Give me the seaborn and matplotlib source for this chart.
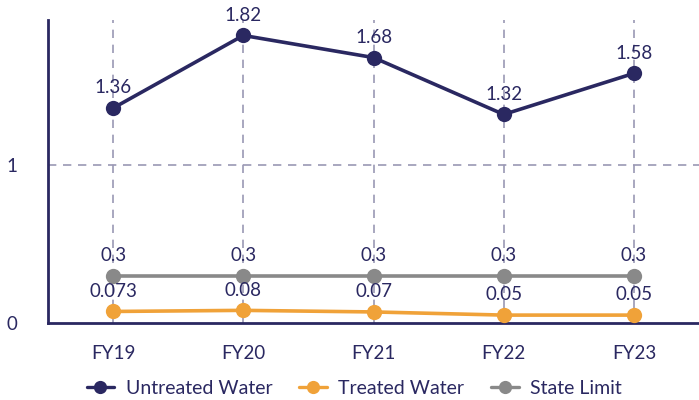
import matplotlib
matplotlib.use("Agg")
import matplotlib.pyplot as plt
import seaborn as sns
import pandas as pd

years = ["FY19", "FY20", "FY21", "FY22", "FY23"]
untreated = [1.36, 1.82, 1.68, 1.32, 1.58]
treated = [0.073, 0.08, 0.07, 0.05, 0.05]
state_limit = [0.3, 0.3, 0.3, 0.3, 0.3]
untreated_lbl = ["1.36", "1.82", "1.68", "1.32", "1.58"]
treated_lbl = ["0.073", "0.08", "0.07", "0.05", "0.05"]
limit_lbl = ["0.3", "0.3", "0.3", "0.3", "0.3"]

series_names = ["Untreated Water", "Treated Water", "State Limit"]
colors = ["#2a2861", "#f0a239", "#898989"]

sns.set_theme(style="white")
plt.rcParams['font.family'] = ['Lato', 'DejaVu Sans']

rows = []
for name, vals in zip(series_names, [untreated, treated, state_limit]):
    for i, (y, v) in enumerate(zip(years, vals)):
        rows.append({"year": y, "x": i, "value": v, "series": name})
df = pd.DataFrame(rows)

fig = plt.figure(figsize=(6.99, 4.0), dpi=100)
ax = fig.add_axes([48/699, 77/400, 1 - 48/699, (323-20)/400])

navy = "#2a2861"
for i in range(len(years)):
    ax.axvline(i, color="#9a98b4", lw=1.2, ls=(0, (5, 4)), zorder=0)
ax.axhline(1, color="#9a98b4", lw=1.2, ls=(0, (5, 4)), zorder=0)

sns.lineplot(data=df, x="x", y="value", hue="series", hue_order=series_names,
             palette=colors, marker="o", markersize=11, linewidth=2.6,
             markeredgewidth=0, ax=ax, zorder=3)

for vals, lbls in [(untreated, untreated_lbl), (treated, treated_lbl), (state_limit, limit_lbl)]:
    for i, (v, l) in enumerate(zip(vals, lbls)):
        ax.annotate(l, (i, v), xytext=(0, 14.5), textcoords="offset points",
                    ha="center", va="center", fontsize=13.5, color=navy,
                    zorder=4)

ax.set_xlim(-0.5, 4.5)
ax.set_ylim(0, (323-20)/158)
ax.set_xticks(range(len(years)))
ax.set_xticklabels(years)
ax.set_yticks([0, 1])
ax.set_yticklabels(["0", "1"])
ax.tick_params(axis="both", labelsize=13.5, colors=navy, length=0)
ax.tick_params(axis="x", pad=16)
ax.tick_params(axis="y", pad=22)
ax.set_xlabel("")
ax.set_ylabel("")
for s in ["top", "right"]:
    ax.spines[s].set_visible(False)
for s in ["left", "bottom"]:
    ax.spines[s].set_color(navy)
    ax.spines[s].set_linewidth(2)

ax.legend_.remove()
handles, labels = ax.get_legend_handles_labels()
for h in handles:
    h.set_markersize(9.5)
    h.set_linewidth(2.4)
fig.legend(handles, labels, loc="center", bbox_to_anchor=(0.507, 12/400), ncol=3,
           frameon=False, fontsize=14, labelcolor=navy, handlelength=1.4,
           columnspacing=1.4, handletextpad=0.6)

fig.savefig("out.png", dpi=100)
